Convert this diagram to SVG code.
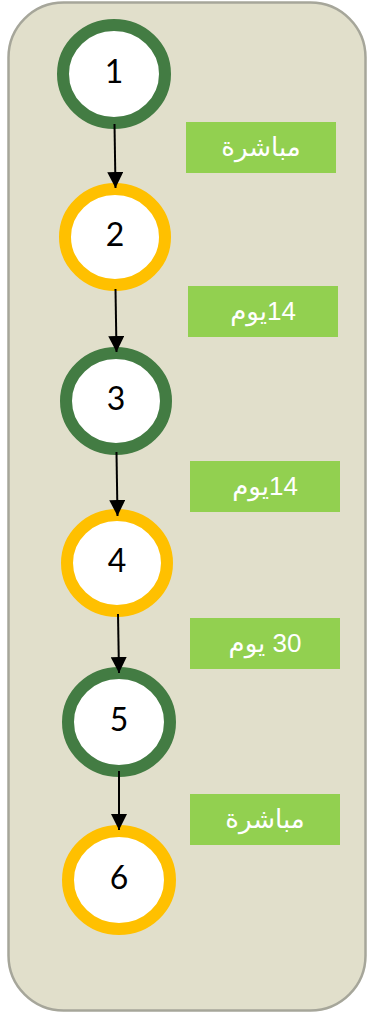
<svg xmlns="http://www.w3.org/2000/svg" width="367" height="1013" viewBox="0 0 367 1013">
<defs>
<style>
.ring-g{fill:#fff;stroke:#437c43;stroke-width:12}
.ring-y{fill:#fff;stroke:#ffc000;stroke-width:12}
.num{font-family:Lato,"Liberation Sans",sans-serif;font-size:32px;fill:#000;text-anchor:middle}
.box{fill:#92d050}
.lbl{font-family:"Liberation Sans","DejaVu Sans",sans-serif;font-size:26px;fill:#fff;text-anchor:middle}
.conn{stroke:#000;stroke-width:2;fill:none}
</style>
<marker id="ah" viewBox="0 0 16 16" refX="16" refY="8" markerWidth="16" markerHeight="16" markerUnits="userSpaceOnUse" orient="auto">
<path d="M0,0 L16,8 L0,16 Z" fill="#000"/>
</marker>
</defs>
<rect x="8.5" y="2.5" width="357" height="1008" rx="55" ry="55" fill="#e1dfcb" stroke="#a6a69a" stroke-width="2.5"/>
<g id="node1"><ellipse class="ring-g" cx="114" cy="74" rx="51" ry="49"/><text class="num" x="114" y="83">1</text></g>
<g id="node2"><ellipse class="ring-y" cx="115" cy="237" rx="50" ry="48"/><text class="num" x="115" y="246">2</text></g>
<g id="node3"><ellipse class="ring-g" cx="116" cy="401" rx="50" ry="48"/><text class="num" x="116" y="410">3</text></g>
<g id="node4"><ellipse class="ring-y" cx="117" cy="563" rx="50" ry="48"/><text class="num" x="117" y="572">4</text></g>
<g id="node5"><ellipse class="ring-g" cx="119" cy="722" rx="51" ry="49"/><text class="num" x="119" y="731">5</text></g>
<g id="node6"><ellipse class="ring-y" cx="119" cy="880" rx="51" ry="49"/><text class="num" x="119" y="889">6</text></g>
<g id="connectors">
<line class="conn" x1="114.5" y1="124" x2="115.5" y2="188" marker-end="url(#ah)"/>
<line class="conn" x1="115.5" y1="289" x2="116.5" y2="352" marker-end="url(#ah)"/>
<line class="conn" x1="116.5" y1="452" x2="117.5" y2="516" marker-end="url(#ah)"/>
<line class="conn" x1="118" y1="614" x2="119" y2="673" marker-end="url(#ah)"/>
<line class="conn" x1="119" y1="771" x2="119" y2="830" marker-end="url(#ah)"/>
</g>
<g id="label1"><rect class="box" x="186" y="122" width="150" height="51"/><text class="lbl" x="261" y="156" direction="rtl">مباشرة</text></g>
<g id="label2"><rect class="box" x="188" y="286" width="150" height="51"/><text class="lbl" x="263" y="320" direction="rtl">14يوم</text></g>
<g id="label3"><rect class="box" x="190" y="461" width="150" height="51"/><text class="lbl" x="265" y="495" direction="rtl">14يوم</text></g>
<g id="label4"><rect class="box" x="190" y="618" width="150" height="51"/><text class="lbl" x="265" y="652" direction="rtl">30 يوم</text></g>
<g id="label5"><rect class="box" x="190" y="794" width="150" height="51"/><text class="lbl" x="265" y="828" direction="rtl">مباشرة</text></g>
</svg>
